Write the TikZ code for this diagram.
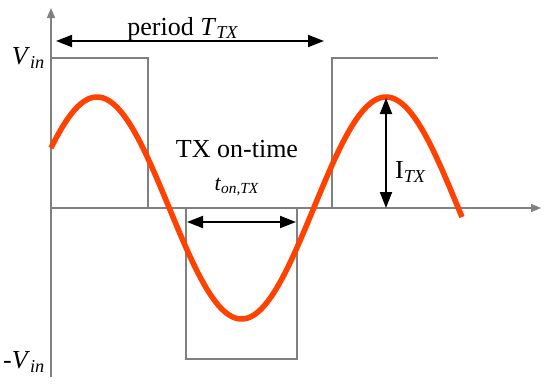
\documentclass[tikz,border=0pt]{standalone}
\usepackage{fontspec}
\setmainfont{Liberation Serif}
\usetikzlibrary{arrows.meta}
\definecolor{axisgray}{HTML}{808080}
\definecolor{sinered}{HTML}{FF4200}
\tikzset{
  axisline/.style={draw=axisgray, line width=1.4pt, -{Triangle[length=10pt,width=8pt]}},
  sqwave/.style={draw=axisgray, line width=1.3pt},
  dimarrow/.style={draw=black, line width=1.8pt, {Triangle[length=16pt,width=12pt]}-{Triangle[length=16pt,width=12pt]}},
  lbl/.style={inner sep=0pt, font=\fontsize{26}{30}\selectfont},
  sublbl/.style={inner sep=0pt, font=\fontsize{22}{26}\selectfont}
}
\begin{document}
\begin{tikzpicture}[x=1pt,y=-1pt]
\useasboundingbox (0,0) rectangle (550,388);
\fill[white] (0,0) rectangle (550,388);
% coordinates
\coordinate (O) at (51,208);
\coordinate (ytop) at (51,8);
\coordinate (ybot) at (51,377);
\coordinate (xend) at (541,208);
% square wave
\draw[sqwave] (51,58) -- (148,58) -- (148,208);
\draw[sqwave] (186,208) -- (186,359) -- (297,359) -- (297,208);
\draw[sqwave] (332,208) -- (332,58) -- (438,58);
% axes
\draw[axisline] (ybot) -- (ytop);
\draw[axisline] (O) -- (xend);
% sine
\draw[sinered, line width=5.5pt, line join=round] plot[domain=51:462, samples=200] (\x, {208-111*cos(1.24567*(\x-97))});
% period arrow
\coordinate (pL) at (56,41);
\coordinate (pR) at (324,41);
\draw[dimarrow] (pL) -- (pR);
\node[lbl, anchor=base] (period) at (183,35) {period \textit{T}\textsubscript{\textit{TX}}};
% on-time arrow
\coordinate (oL) at (187,222);
\coordinate (oR) at (296,222);
\draw[dimarrow] (oL) -- (oR);
\node[lbl, anchor=base] (ontime) at (237,157) {TX on-time};
\node[sublbl, anchor=base] (ton) at (237,190) {\textit{t}\textsubscript{\textit{on,TX}}};
% I_TX arrow
\coordinate (iT) at (386,98);
\coordinate (iB) at (386,208);
\draw[dimarrow] (iT) -- (iB);
\node[lbl, anchor=west] (itx) at (395,172) {I\textsubscript{\textit{TX}}};
% V labels
\node[lbl, anchor=east] (vin) at (45,58) {\textit{V}\textsubscript{\textit{in}}};
\node[lbl, anchor=east] (mvin) at (45,362) {-\textit{V}\textsubscript{\textit{in}}};
\end{tikzpicture}
\end{document}
